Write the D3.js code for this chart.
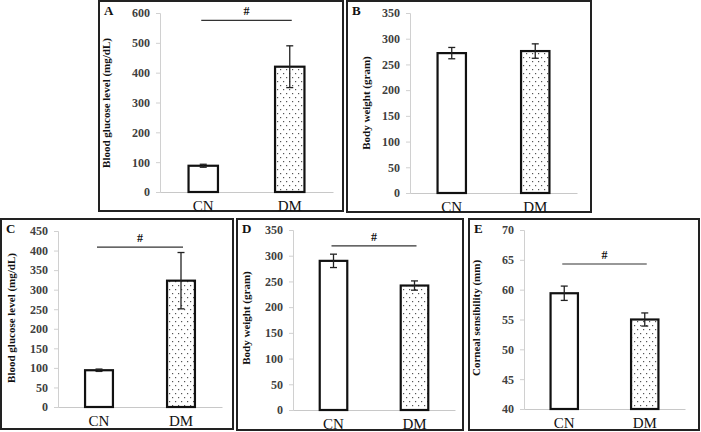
<!DOCTYPE html>
<html><head><meta charset="utf-8">
<script src="https://cdn.jsdelivr.net/npm/d3@7"></script>
<style>
html,body{margin:0;padding:0;background:#fff;}
svg{display:block;font-family:"Liberation Serif","Times New Roman",serif;}
</style></head>
<body><svg id="c" width="701" height="432"></svg>
<script>
// ---- data ----
const categories = ["CN", "DM"];
const glucoseA = [88, 420];      const glucoseAErr = [5, 70];
const weightB = [272, 276];      const weightBErr = [11, 14];
const glucoseC = [94, 323];      const glucoseCErr = [3, 72];
const weightD = [290, 242];      const weightDErr = [13, 9];
const corneaE = [59.4, 55.0];    const corneaEErr = [1.2, 1.1];
const ticksA = [0, 100, 200, 300, 400, 500, 600];
const ticksB = [0, 50, 100, 150, 200, 250, 300, 350];
const ticksC = [0, 50, 100, 150, 200, 250, 300, 350, 400, 450];
const ticksD = [0, 50, 100, 150, 200, 250, 300, 350];
const ticksE = [40, 45, 50, 55, 60, 65, 70];
const panelLetters = ["A", "B", "C", "D", "E"];
const yTitles = ["Blood glucose level (mg/dL)", "Body weight (gram)", "Blood glucose level (mg/dL)", "Body weight (gram)", "Corneal sensibility (mm)"];
const sigLevels = [575, null, 409, 319, 64.3];

// ---- layout ----
const panels = [
  {vals: glucoseA, err: glucoseAErr, ticks: ticksA, box: [99, 1, 343, 211], x0: 160, x1: 333, y0: 192, y1: 13, titleX: 110, titleY: 103},
  {vals: weightB, err: weightBErr, ticks: ticksB, box: [347, 1, 591, 212], x0: 410, x1: 577, y0: 193, y1: 13, titleX: 370, titleY: 103},
  {vals: glucoseC, err: glucoseCErr, ticks: ticksC, box: [1, 219, 233, 429], x0: 58, x1: 222, y0: 407, y1: 231, titleX: 15, titleY: 318},
  {vals: weightD, err: weightDErr, ticks: ticksD, box: [237, 219, 463, 430], x0: 293, x1: 455, y0: 410, y1: 230, titleX: 250, titleY: 318},
  {vals: corneaE, err: corneaEErr, ticks: ticksE, box: [469, 219, 699, 430], x0: 524, x1: 685, y0: 409, y1: 230, titleX: 480, titleY: 318}
];

const svg = d3.select("#c");
const defs = svg.append("defs");
const pat = defs.append("pattern").attr("id", "dots").attr("patternUnits", "userSpaceOnUse")
  .attr("width", 6).attr("height", 8);
pat.append("rect").attr("width", 6).attr("height", 8).attr("fill", "#fff");
pat.append("rect").attr("x", 1).attr("y", 1).attr("width", 1.2).attr("height", 1.2).attr("fill", "#555");
pat.append("rect").attr("x", 4).attr("y", 5).attr("width", 1.2).attr("height", 1.2).attr("fill", "#555");

panels.forEach((p, i) => {
  const g = svg.append("g");
  const [bx0, by0, bx1, by1] = p.box;
  g.append("rect").attr("x", bx0).attr("y", by0).attr("width", bx1 - bx0).attr("height", by1 - by0)
    .attr("fill", "none").attr("stroke", "#222").attr("stroke-width", 2);
  g.append("text").attr("x", bx0 + 5).attr("y", by0 + 14).attr("font-weight", "bold")
    .attr("font-size", 13).attr("fill", "#111").text(panelLetters[i]);

  const x = d3.scaleBand().domain(categories).range([p.x0, p.x1]).paddingInner(0.66).paddingOuter(0.33);
  const y = d3.scaleLinear().domain([p.ticks[0], p.ticks[p.ticks.length - 1]]).range([p.y0, p.y1]);

  const ya = g.append("g").attr("transform", `translate(${p.x0},0)`)
    .call(d3.axisLeft(y).tickValues(p.ticks).tickSize(4).tickPadding(6).tickFormat(d3.format("d")));
  ya.select(".domain").attr("stroke", "#d0d0d0");
  ya.selectAll(".tick line").attr("stroke", "#d0d0d0");
  ya.selectAll(".tick text").attr("font-family", "Liberation Serif").attr("font-size", 12)
    .attr("font-weight", "bold").attr("fill", "#404040");

  const xa = g.append("g").attr("transform", `translate(0,${p.y0})`)
    .call(d3.axisBottom(x).tickSize(0).tickPadding(8));
  xa.select(".domain").attr("stroke", "#c8c8c8").attr("stroke-width", 1);
  xa.selectAll(".tick text").attr("font-family", "Liberation Serif").attr("font-size", 15).attr("fill", "#111");

  g.append("text").attr("transform", `translate(${p.titleX},${p.titleY}) rotate(-90)`)
    .attr("text-anchor", "middle").attr("font-weight", "bold").attr("font-size", 11).attr("fill", "#111")
    .text(yTitles[i]);

  categories.forEach((c, j) => {
    const v = p.vals[j], e = p.err[j];
    const cx = x(c) + x.bandwidth() / 2;
    g.append("rect").attr("x", x(c)).attr("y", y(v)).attr("width", x.bandwidth()).attr("height", y(p.ticks[0]) - y(v))
      .attr("fill", j === 0 ? "#fff" : "url(#dots)").attr("stroke", "#111").attr("stroke-width", 2.2);
    g.append("line").attr("x1", cx).attr("x2", cx).attr("y1", y(v + e)).attr("y2", y(v - e))
      .attr("stroke", "#222").attr("stroke-width", 1.3);
    [v + e, v - e].forEach(t => g.append("line").attr("x1", cx - 3.5).attr("x2", cx + 3.5)
      .attr("y1", y(t)).attr("y2", y(t)).attr("stroke", "#222").attr("stroke-width", 1.3));
  });

  if (sigLevels[i] !== null) {
    const xa0 = x(categories[0]) + x.bandwidth() / 2 - 2;
    const xa1 = x(categories[1]) + x.bandwidth() / 2 + 2;
    const sy = y(sigLevels[i]);
    g.append("line").attr("x1", xa0).attr("x2", xa1).attr("y1", sy).attr("y2", sy)
      .attr("stroke", "#333").attr("stroke-width", 1.2);
    g.append("text").attr("x", (xa0 + xa1) / 2).attr("y", sy - 5).attr("text-anchor", "middle")
      .attr("font-weight", "bold").attr("font-size", 12).attr("fill", "#111").text("#");
  }
});
</script></body></html>
